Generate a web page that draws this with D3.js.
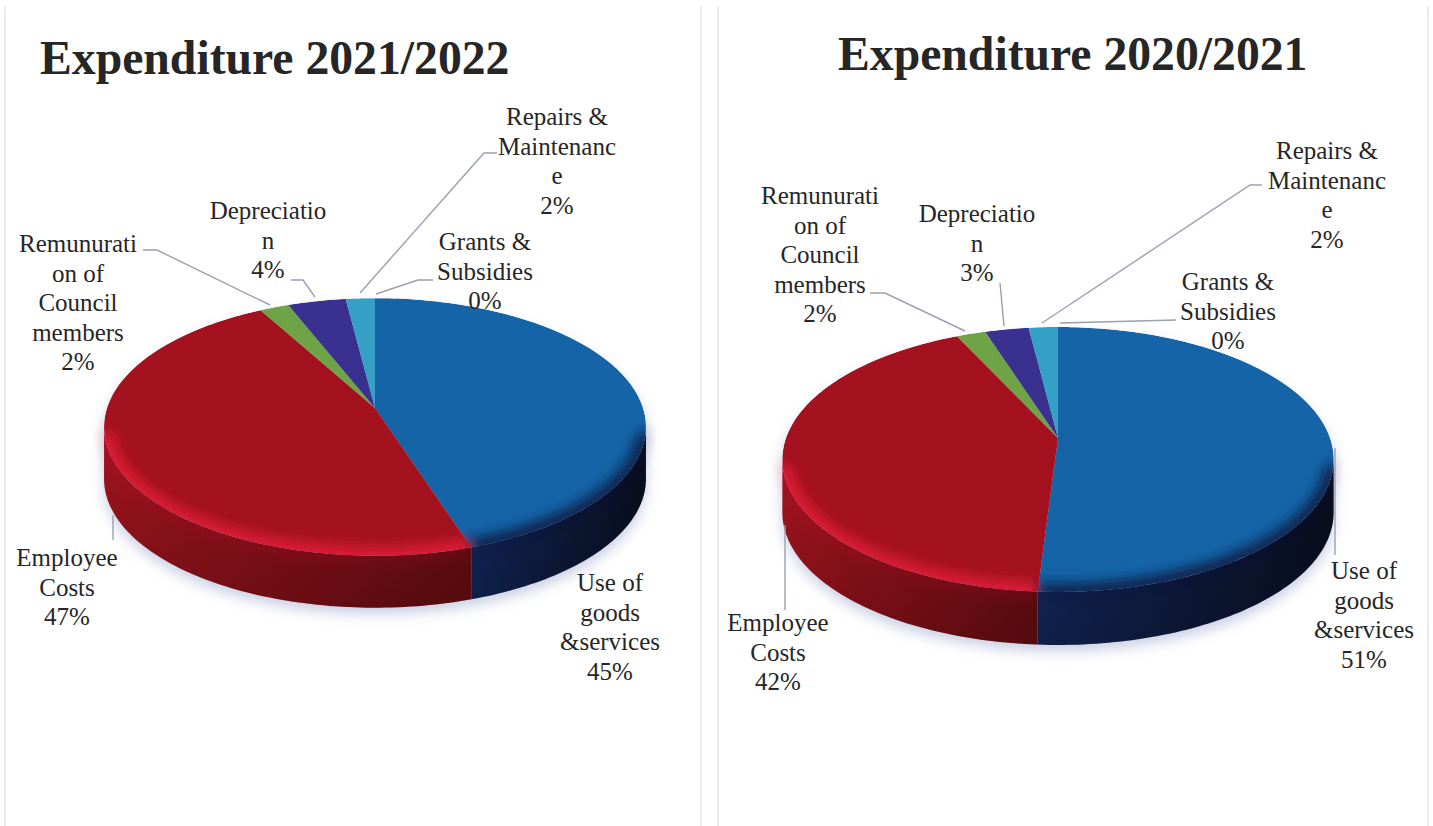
<!DOCTYPE html>
<html>
<head>
<meta charset="utf-8">
<script src="https://cdn.jsdelivr.net/npm/d3@7/dist/d3.min.js"></script>
<style>
html,body{margin:0;background:#fff;}
svg{display:block;}
text{font-family:"Liberation Serif",serif;fill:#262626;}
</style>
</head>
<body>
<svg id="chart" width="1433" height="826"></svg>
<script>
// Expenditure shares per financial year
const categories = ["Use of goods &services","Employee Costs","Remunuration of Council members","Depreciation","Repairs & Maintenance","Grants & Subsidies"];
const values2122 = [45,47,2,4,2,0];
const values2021 = [51,42,2,3,2,0];
const titles = ["Expenditure 2021/2022","Expenditure 2020/2021"];

// Wrapped label text, one entry per category
const labelLines = [
  ["Use of","goods","&services"],
  ["Employee","Costs"],
  ["Remunurati","on of","Council","members"],
  ["Depreciatio","n"],
  ["Repairs &","Maintenanc","e"],
  ["Grants &","Subsidies"]
];

// Slice colours and their wall / rim shades
const topColors  = ["#1564a8","#a5121f","#6ea446","#3a3090","#34a0c6","#4a76b0"];
const wallStart  = ["#12285c","#a0141e","#55803a","#2a2268","#257a98","#33558a"];
const wallEnd    = ["#090e1e","#680d12","#3c5c28","#1c1748","#1b5a70","#223a60"];
const rimColors  = ["#0a1c44","#e2223a","#8ac45c","#4a40a8","#48b8dc","#5a88c0"];

// Layout of each pie: projected disc, label anchors and leader paths
const layouts = [
  { values: values2122, title: titles[0], titleX: 40, titleY: 74,
    cx: 375, apexY: 408, R: 268, K: 126, p: 0.147, depth: 52,
    labels: [[610,583],[67,558],[78,244],[268,211],[557,117],[485,242]],
    leaders: [
      null,
      [[113,515],[113,540]],
      [[143,250],[157,250],[270,305]],
      [[291,280],[303,280],[315,297]],
      [[497,153],[484,153],[360,293]],
      [[433,280],[418,280],[376,294]]
    ] },
  { values: values2021, title: titles[1], titleX: 838, titleY: 70,
    cx: 1058, apexY: 438, R: 272, K: 129, p: 0.162, depth: 53,
    labels: [[1364,571],[778,623],[820,196],[977,214],[1327,151],[1228,282]],
    leaders: [
      [[1335,448],[1335,555]],
      [[785,525],[785,610]],
      [[870,293],[885,293],[965,331]],
      [[1000,283],[1004,326]],
      [[1262,185],[1250,185],[1042,323]],
      [[1176,320],[1060,323]]
    ] }
];

const svg = d3.select("#chart");
const defs = svg.append("defs");
const lineHeight = 29.6;

defs.append("filter").attr("id","soft").attr("x","-20%").attr("y","-20%").attr("width","140%").attr("height","140%")
  .append("feGaussianBlur").attr("stdDeviation",7);
defs.append("filter").attr("id","rimBlur").attr("x","-20%").attr("y","-20%").attr("width","140%").attr("height","140%")
  .append("feGaussianBlur").attr("stdDeviation",6);

const shade = defs.append("linearGradient").attr("id","wallShade").attr("x1",0).attr("y1",0).attr("x2",0).attr("y2",1);
shade.append("stop").attr("offset",0).attr("stop-color","#000").attr("stop-opacity",0);
shade.append("stop").attr("offset",1).attr("stop-color","#000").attr("stop-opacity",0.2);

categories.forEach((c,i)=>{
  const g = defs.append("linearGradient").attr("id","wall"+i);
  g.append("stop").attr("offset",0).attr("stop-color",wallStart[i]);
  g.append("stop").attr("offset",1).attr("stop-color",wallEnd[i]);
});

// Faint panel edges either side of the two charts
const panelEdges = [5,701,718,1428];
svg.append("g").selectAll("line").data(panelEdges).join("line")
  .attr("x1",d=>d).attr("x2",d=>d).attr("y1",6).attr("y2",826)
  .attr("stroke","#e3e6f2").attr("stroke-width",1.5);

const pie = d3.pie().sort(null).value(d=>d);
const pathOf = d3.line().x(d=>d[0]).y(d=>d[1]);

layouts.forEach((L,idx)=>{
  const g = svg.append("g");

  // Perspective projection of a disc angle onto the page
  const project = (a,dy=0)=>{
    const u=Math.sin(a), v=-Math.cos(a), s=1/(1-L.p*v);
    return [L.cx+L.R*u*s, L.apexY+L.K*v*s+dy];
  };
  const sweep = (a0,a1,dy=0)=>{
    const n=Math.max(2,Math.ceil(Math.abs(a1-a0)/0.02));
    const t=d3.scaleLinear().domain([0,n]).range([a0,a1]);
    return d3.range(n+1).map(i=>project(t(i),dy));
  };
  const arcs = pie(L.values);

  // Angles where the disc silhouette turns, wall is visible between them
  const turn = Math.acos(L.p);
  const frontA = Math.PI-turn, frontB = Math.PI+turn;

  // Soft ground shadow
  g.append("path")
    .attr("d",pathOf(sweep(frontA,frontB,L.depth+6).concat(sweep(frontB,frontA+2*Math.PI,8)))+"Z")
    .attr("fill","#aab4d4").attr("opacity",0.65).attr("filter","url(#soft)");

  // Outer wall of the disc
  arcs.forEach((d,i)=>{
    const a0=Math.max(d.startAngle,frontA), a1=Math.min(d.endAngle,frontB);
    if(a1<=a0) return;
    const wall=sweep(a0,a1).concat(sweep(a1,a0,L.depth));
    g.append("path").attr("d",pathOf(wall)+"Z").attr("fill",`url(#wall${i})`);
    g.append("path").attr("d",pathOf(wall)+"Z").attr("fill","url(#wallShade)");
  });

  // Clip for the top surface
  const clipId="top"+idx;
  defs.append("clipPath").attr("id",clipId).append("path")
    .attr("d",pathOf(sweep(0,2*Math.PI))+"Z");

  const topG=g.append("g").attr("clip-path",`url(#${clipId})`);

  // Top surface slices
  arcs.forEach((d,i)=>{
    if(d.endAngle<=d.startAngle) return;
    const centre=[L.cx,L.apexY];
    topG.append("path").attr("d",pathOf([centre].concat(sweep(d.startAngle,d.endAngle)))+"Z")
      .attr("fill",topColors[i]);
  });

  // Bevel along the front rim
  arcs.forEach((d,i)=>{
    const a0=Math.max(d.startAngle,frontA+0.05), a1=Math.min(d.endAngle,frontB-0.05);
    if(a1<=a0) return;
    topG.append("path").attr("d",pathOf(sweep(a0,a1)))
      .attr("fill","none").attr("stroke",rimColors[i]).attr("stroke-width",18)
      .attr("stroke-opacity",0.85).attr("filter","url(#rimBlur)");
  });

  // Soft light band where the rim meets the wall
  arcs.forEach((d,i)=>{
    const a0=Math.max(d.startAngle,frontA), a1=Math.min(d.endAngle,frontB);
    if(a1<=a0) return;
    g.append("path").attr("d",pathOf(sweep(a0,a1,2))).attr("fill","none")
      .attr("stroke",rimColors[i]).attr("stroke-opacity",0.3).attr("stroke-width",5)
      .attr("filter","url(#rimBlur)");
  });

  // Leader lines
  L.leaders.forEach(l=>{
    if(!l) return;
    g.append("path").attr("d",pathOf(l)).attr("fill","none")
      .attr("stroke","#9aa0b2").attr("stroke-width",1.4);
  });

  // Category and percentage labels
  arcs.forEach((d,i)=>{
    const [lx,ly]=L.labels[i];
    const lines=labelLines[i].concat([d.value+"%"]);
    g.append("g").selectAll("text").data(lines).join("text")
      .attr("x",lx).attr("y",(t,k)=>ly+k*lineHeight)
      .attr("dy","0.32em")
      .attr("text-anchor","middle")
      .attr("font-size",25)
      .text(t=>t);
  });

  // Title
  g.append("text").attr("x",L.titleX).attr("y",L.titleY)
    .attr("font-size",47.7).attr("font-weight","bold").attr("fill","#1c1c1c").text(L.title);
});
</script>
</body>
</html>
